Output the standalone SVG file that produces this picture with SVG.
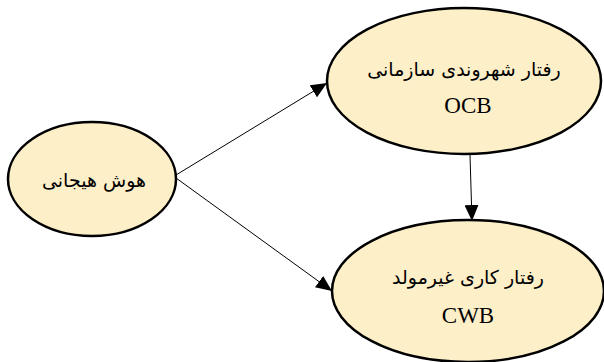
<svg xmlns="http://www.w3.org/2000/svg" width="604" height="362" viewBox="0 0 604 362">
<style>
.node ellipse{fill:#fdefc8;stroke:#000;stroke-width:2.5}
.t{font-family:"Liberation Serif","DejaVu Serif","DejaVu Sans",serif;font-size:23px;fill:#000;text-anchor:middle}
.fa{font-family:"DejaVu Sans",serif;font-size:19px;fill:#000;text-anchor:middle}
.edges line{stroke:#000;stroke-width:1}
</style>
<defs>
<marker id="ah" markerWidth="16" markerHeight="14" refX="16" refY="7" orient="auto" markerUnits="userSpaceOnUse" viewBox="0 0 16 14">
<path d="M0,0 L16,7 L0,14 z" fill="#000"/>
</marker>
</defs>
<rect width="604" height="362" fill="#fff"/>
<g class="edges">
<line x1="176" y1="175" x2="327" y2="83" marker-end="url(#ah)"/>
<line x1="176" y1="178" x2="332" y2="291" marker-end="url(#ah)"/>
<line x1="470" y1="155" x2="472" y2="221" marker-end="url(#ah)"/>
</g>
<g id="n1" class="node">
<ellipse cx="92" cy="179" rx="84" ry="57"/>
<text class="fa" x="94" y="187" direction="rtl">هوش هیجانی</text>
</g>
<g id="n2" class="node">
<ellipse cx="464" cy="81" rx="137" ry="73"/>
<text class="fa" x="464" y="76" direction="rtl">رفتار شهروندی سازمانی</text>
<text class="t" x="468" y="113">OCB</text>
</g>
<g id="n3" class="node">
<ellipse cx="468" cy="291" rx="136" ry="71"/>
<text class="fa" x="468" y="284" direction="rtl">رفتار کاری غیرمولد</text>
<text class="t" x="468" y="323">CWB</text>
</g>
</svg>
